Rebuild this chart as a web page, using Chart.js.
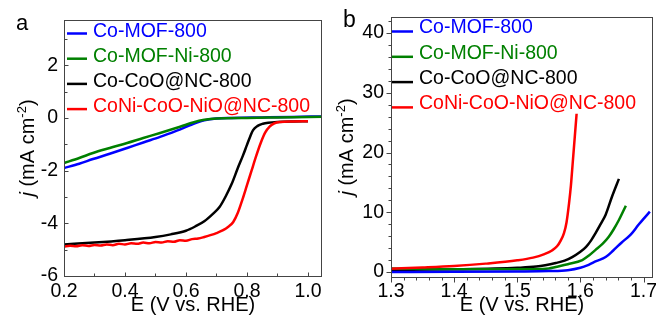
<!DOCTYPE html>
<html>
<head>
<meta charset="utf-8">
<script src="https://cdn.jsdelivr.net/npm/chart.js@4.4.0/dist/chart.umd.min.js"></script>
<style>
  html, body { margin: 0; padding: 0; background: #fff; }
  #wrap { position: relative; width: 656px; height: 325px; }
  .panel { position: absolute; top: 0; height: 325px; }
</style>
</head>
<body>
<div id="wrap">
  <div class="panel" style="left:0;width:330px"><canvas id="orr" width="330" height="325"></canvas></div>
  <div class="panel" style="left:330px;width:326px"><canvas id="oer" width="326" height="325"></canvas></div>
</div>
<script>
const FONT = '"Liberation Sans", Arial, sans-serif';

const seriesNames = ['Co-MOF-800', 'Co-MOF-Ni-800', 'Co-CoO@NC-800', 'CoNi-CoO-NiO@NC-800'];
const seriesColors = ['#0000ff', '#008000', '#000000', '#ff0000'];

// panel a: ORR, [E (V vs RHE), j (mA cm-2)]
const orrCoMOF = [[0.2,-1.90],[0.25,-1.74],[0.295,-1.56],[0.35,-1.36],[0.407,-1.14],[0.46,-0.93],[0.515,-0.72],[0.57,-0.48],[0.623,-0.23],[0.66,-0.09],[0.70,-0.02],[0.75,0.0],[0.85,0.02],[0.95,0.04],[1.046,0.06]];
const orrCoMOFNi = [[0.2,-1.71],[0.25,-1.52],[0.295,-1.33],[0.35,-1.14],[0.407,-0.95],[0.46,-0.76],[0.515,-0.57],[0.57,-0.37],[0.623,-0.17],[0.66,-0.07],[0.70,-0.02],[0.80,0.0],[0.90,0.02],[1.046,0.05]];
const orrCoCoO = [[0.2,-4.80],[0.3,-4.73],[0.4,-4.64],[0.5,-4.52],[0.55,-4.42],[0.6,-4.28],[0.63,-4.12],[0.66,-3.92],[0.69,-3.62],[0.71,-3.38],[0.73,-2.98],[0.75,-2.50],[0.77,-1.90],[0.787,-1.42],[0.80,-1.02],[0.81,-0.72],[0.82,-0.46],[0.835,-0.30],[0.852,-0.22],[0.87,-0.18],[0.90,-0.15],[0.95,-0.13],[1.00,-0.12]];
const orrCoNi = [[0.20,-4.88],[0.22,-4.85],[0.24,-4.87],[0.26,-4.83],[0.28,-4.86],[0.30,-4.82],[0.32,-4.84],[0.34,-4.80],[0.36,-4.83],[0.38,-4.78],[0.40,-4.80],[0.42,-4.76],[0.44,-4.78],[0.46,-4.73],[0.48,-4.76],[0.50,-4.71],[0.52,-4.73],[0.54,-4.68],[0.56,-4.70],[0.58,-4.64],[0.60,-4.66],[0.62,-4.60],[0.64,-4.58],[0.66,-4.52],[0.68,-4.45],[0.70,-4.37],[0.72,-4.27],[0.74,-4.12],[0.755,-3.95],[0.77,-3.60],[0.785,-3.10],[0.80,-2.55],[0.815,-2.00],[0.83,-1.45],[0.845,-0.95],[0.86,-0.55],[0.875,-0.32],[0.89,-0.20],[0.91,-0.15],[0.95,-0.13],[1.00,-0.12]];

// panel b: OER
const oerCoMOF = [[1.30,0.0],[1.40,0.02],[1.50,0.08],[1.55,0.15],[1.58,0.3],[1.60,0.7],[1.613,1.2],[1.625,1.8],[1.64,2.5],[1.652,3.6],[1.665,4.9],[1.68,6.3],[1.692,7.9],[1.70,8.9],[1.71,10.1]];
const oerCoMOFNi = [[1.30,0.6],[1.40,0.45],[1.50,0.45],[1.55,0.6],[1.561,0.85],[1.58,1.3],[1.603,2.0],[1.614,2.8],[1.624,3.7],[1.635,4.7],[1.645,5.9],[1.653,7.2],[1.661,8.7],[1.672,11.1]];
const oerCoCoO = [[1.30,0.35],[1.40,0.45],[1.50,0.7],[1.53,0.9],[1.561,1.5],[1.575,1.9],[1.587,2.5],[1.60,3.4],[1.609,4.2],[1.617,5.3],[1.624,6.5],[1.632,8.0],[1.640,9.6],[1.65,12.6],[1.661,15.6]];
const oerCoNi = [[1.30,0.55],[1.35,0.75],[1.40,1.0],[1.45,1.4],[1.50,1.95],[1.525,2.4],[1.543,3.0],[1.555,3.6],[1.563,4.3],[1.569,5.3],[1.574,6.5],[1.578,8.3],[1.582,11.5],[1.585,14.5],[1.588,18.5],[1.591,22.5],[1.594,26.5]];

const orrXTicks = [0.2, 0.4, 0.6, 0.8, 1.0];
const orrYTicks = [-6, -4, -2, 0, 2];
const oerXTicks = [1.3, 1.4, 1.5, 1.6, 1.7];
const oerYTicks = [0, 10, 20, 30, 40];

function makeSet(i, pts, order) {
  return {
    label: seriesNames[i],
    data: pts.map(p => ({ x: p[0], y: p[1] })),
    borderColor: seriesColors[i],
    borderWidth: 2.5,
    pointRadius: 0,
    fill: false,
    cubicInterpolationMode: 'monotone',
    order: order
  };
}

// frame, tick marks, legend inside the plot, y title and panel letter
const decor = {
  id: 'decor',
  afterDatasetsDraw(chart, args, o) {
    const { ctx, chartArea: a, scales } = chart;
    ctx.save();
    ctx.strokeStyle = '#444';
    ctx.lineWidth = 1;
    ctx.strokeRect(Math.round(a.left) + 0.5, Math.round(a.top) + 0.5,
      Math.round(a.right - a.left) - 1, Math.round(a.bottom - a.top));

    const dir = o.inward ? -1 : 1;
    const marks = (scale, minor, major, cb) => {
      const k0 = Math.ceil(scale.min / minor - 1e-6);
      const k1 = Math.floor(scale.max / minor + 1e-6);
      for (let k = k0; k <= k1; k++) {
        const v = k * minor;
        const r = v / major;
        const isMajor = Math.abs(r - Math.round(r)) < 1e-6;
        cb(Math.round(scale.getPixelForValue(v)) + 0.5, isMajor ? o.majorLen : o.minorLen);
      }
    };
    ctx.beginPath();
    const yb = Math.round(a.bottom) + 0.5;
    marks(scales.x, o.xMinor, o.xMajor, (p, len) => { ctx.moveTo(p, yb); ctx.lineTo(p, yb + dir * len); });
    const xl = Math.round(a.left) + 0.5;
    marks(scales.y, o.yMinor, o.yMajor, (p, len) => { ctx.moveTo(xl, p); ctx.lineTo(xl - dir * len, p); });
    ctx.stroke();

    // legend
    const lg = o.legend;
    ctx.lineWidth = 2.5;
    ctx.textBaseline = 'middle';
    ctx.textAlign = 'left';
    ctx.font = '19.5px ' + FONT;
    seriesNames.forEach((name, i) => {
      const ty = lg.top + i * lg.step;
      ctx.strokeStyle = seriesColors[i];
      ctx.beginPath();
      ctx.moveTo(lg.x0, ty + lg.lineDy);
      ctx.lineTo(lg.x1, ty + lg.lineDy);
      ctx.stroke();
      ctx.fillStyle = seriesColors[i];
      ctx.fillText(name, lg.tx, ty);
    });

    // y title: j (mA cm-2)
    const parts = [
      { t: 'j', f: 'italic 20px ' + FONT, dy: 0 },
      { t: ' (mA cm', f: '20px ' + FONT, dy: 0 },
      { t: '-2', f: '13px ' + FONT, dy: -8 },
      { t: ')', f: '20px ' + FONT, dy: 0 }
    ];
    let w = 0;
    parts.forEach(p => { ctx.font = p.f; p.w = ctx.measureText(p.t).width; w += p.w; });
    ctx.translate(o.yTitleX, (a.top + a.bottom) / 2);
    ctx.rotate(-Math.PI / 2);
    ctx.fillStyle = '#000';
    ctx.textBaseline = 'alphabetic';
    let cx = -w / 2;
    parts.forEach(p => { ctx.font = p.f; ctx.fillText(p.t, cx, 7 + p.dy); cx += p.w; });
    ctx.setTransform(1, 0, 0, 1, 0, 0);

    ctx.font = o.letterSize + 'px ' + FONT;
    ctx.fillStyle = '#000';
    ctx.fillText(o.letter, o.letterX, o.letterY);
    ctx.restore();
  }
};

function axisFont(size) { return { family: FONT, size: size }; }

function makeChart(id, sets, cfg) {
  return new Chart(document.getElementById(id), {
    type: 'line',
    data: { datasets: sets },
    plugins: [decor],
    options: {
      responsive: false,
      animation: false,
      layout: { padding: cfg.padding },
      plugins: { legend: { display: false }, tooltip: { enabled: false }, decor: cfg.decor },
      scales: {
        x: {
          type: 'linear', min: cfg.xMin, max: cfg.xMax,
          grid: { display: false, drawTicks: false }, border: { display: false },
          afterBuildTicks: s => { s.ticks = cfg.xTicks.map(v => ({ value: v })); },
          afterFit: s => { s.height = cfg.xHeight; s.paddingLeft = 0; s.paddingRight = 0; },
          ticks: { font: axisFont(19.5), color: '#000', padding: cfg.xPad, maxRotation: 0, callback: v => v.toFixed(1) },
          title: { display: true, text: 'E (V vs. RHE)', font: axisFont(20), color: '#000', padding: { top: 0, bottom: 8 } }
        },
        y: {
          type: 'linear', min: cfg.yMin, max: cfg.yMax,
          grid: { display: false, drawTicks: false }, border: { display: false },
          afterBuildTicks: s => { s.ticks = cfg.yTicks.map(v => ({ value: v })); },
          afterFit: s => { s.width = cfg.yWidth; s.paddingTop = 0; s.paddingBottom = 0; },
          ticks: { font: axisFont(19.5), color: '#000', padding: cfg.yPad, callback: v => String(v) }
        }
      }
    }
  });
}

makeChart('orr', [
  makeSet(0, orrCoMOF, 3),
  makeSet(1, orrCoMOFNi, 2),
  makeSet(2, orrCoCoO, 1),
  makeSet(3, orrCoNi, 0)
], {
  padding: { left: 0, right: 8, top: 20, bottom: 0 },
  xMin: 0.2, xMax: 1.046, yMin: -6, yMax: 3.72,
  xTicks: orrXTicks, yTicks: orrYTicks,
  xHeight: 49, yWidth: 64, xPad: 4, yPad: 6,
  decor: {
    inward: true, xMinor: 0.1, xMajor: 0.2, yMinor: 1, yMajor: 2, majorLen: 4, minorLen: 3,
    legend: { x0: 67, x1: 87, tx: 93, top: 31.5, step: 25.2, lineDy: 2 },
    yTitleX: 27, letter: 'a', letterX: 16, letterY: 30, letterSize: 22
  }
});

makeChart('oer', [
  makeSet(0, oerCoMOF, 1),
  makeSet(1, oerCoMOFNi, 2),
  makeSet(2, oerCoCoO, 3),
  makeSet(3, oerCoNi, 0)
], {
  padding: { left: 0, right: 3, top: 17, bottom: 0 },
  xMin: 1.3, xMax: 1.715, yMin: -0.84, yMax: 42.7,
  xTicks: oerXTicks, yTicks: oerYTicks,
  xHeight: 48, yWidth: 61, xPad: 3, yPad: 7,
  decor: {
    inward: false, xMinor: 0.02, xMajor: 0.1, yMinor: 2, yMajor: 10, majorLen: 5, minorLen: 3,
    legend: { x0: 62, x1: 83, tx: 89, top: 28, step: 25.3, lineDy: 3.5 },
    yTitleX: 16, letter: 'b', letterX: 13, letterY: 27, letterSize: 23
  }
});
</script>
</body>
</html>
